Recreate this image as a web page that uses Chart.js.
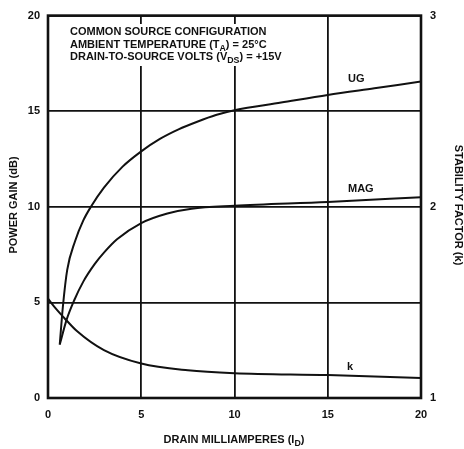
<!DOCTYPE html>
<html>
<head>
<meta charset="utf-8">
<script src="https://cdn.jsdelivr.net/npm/chart.js@4.4.1/dist/chart.umd.min.js"></script>
<style>
  html, body { margin: 0; padding: 0; background: #fff; }
  #wrap { width: 464px; height: 449px; }
</style>
</head>
<body>
<div id="wrap"><canvas id="myChart" width="464" height="449"></canvas></div>
<script>
// drain current (mA) and readings, taken off the plot
const ugX = [0.63, 0.8, 1.03, 1.45, 1.9, 2.3, 3, 4, 5, 6, 7, 8, 9, 10, 12.5, 15, 17.5, 20];
const ugDb = [2.8, 4.8, 6.7, 8.2, 9.3, 10.0, 11.0, 12.1, 12.9, 13.55, 14.05, 14.45, 14.8, 15.05, 15.45, 15.85, 16.2, 16.55];

const magX = [0.63, 1.0, 1.4, 1.9, 2.5, 3.0, 3.7, 5, 6.4, 7.7, 10, 15, 20];
const magDb = [2.8, 4.1, 5.1, 6.1, 7.0, 7.6, 8.3, 9.15, 9.65, 9.9, 10.05, 10.25, 10.5];

const kX = [0, 0.4, 0.86, 1.55, 3.0, 5, 7.5, 10, 15, 20];
const kVal = [1.52, 1.47, 1.42, 1.35, 1.25, 1.18, 1.145, 1.13, 1.12, 1.105];

const xTicks = [0, 5, 10, 15, 20];
const gainTicks = [0, 5, 10, 15, 20];
const kTicks = [1, 2, 3];

const titleLines = [
  ["COMMON SOURCE CONFIGURATION"],
  ["AMBIENT TEMPERATURE (T", "A", ") = 25°C"],
  ["DRAIN-TO-SOURCE VOLTS (V", "DS", ") = +15V"]
];

const ink = "#111";
const font = "'Liberation Sans', Arial, sans-serif";

function pts(xs, ys) {
  return xs.map((x, i) => ({ x: x, y: ys[i] }));
}

// draws text where every second piece is a subscript
function subText(ctx, parts, x, y, size) {
  let cx = x;
  parts.forEach(function (p, i) {
    if (i % 2 === 1) {
      ctx.font = "bold " + (size * 0.8) + "px " + font;
      ctx.fillText(p, cx, y + size * 0.3);
    } else {
      ctx.font = "bold " + size + "px " + font;
      ctx.fillText(p, cx, y);
    }
    cx += ctx.measureText(p).width;
  });
  return cx - x;
}

function subWidth(ctx, parts, size) {
  let w = 0;
  parts.forEach(function (p, i) {
    ctx.font = "bold " + (i % 2 === 1 ? size * 0.8 : size) + "px " + font;
    w += ctx.measureText(p).width;
  });
  return w;
}

const decor = {
  id: "decor",
  beforeDatasetsDraw(chart) {
    const ctx = chart.ctx;
    ctx.save();
    // white patch behind the condition text
    ctx.fillStyle = "#fff";
    ctx.fillRect(66, 24, 228, 42);
    ctx.fillStyle = ink;
    ctx.textBaseline = "alphabetic";
    ctx.textAlign = "left";
    subText(ctx, titleLines[0], 70, 35, 11);
    subText(ctx, titleLines[1], 70, 48, 11);
    subText(ctx, titleLines[2], 70, 60, 11);
    ctx.restore();
  },
  afterDraw(chart) {
    const ctx = chart.ctx;
    const a = chart.chartArea;
    ctx.save();
    ctx.strokeStyle = ink;
    ctx.lineWidth = 2.6;
    ctx.strokeRect(a.left, a.top, a.right - a.left, a.bottom - a.top);

    ctx.fillStyle = ink;
    ctx.textBaseline = "middle";
    ctx.textAlign = "left";
    ctx.font = "bold 11px " + font;
    ctx.fillText("UG", 348, 79);
    ctx.fillText("MAG", 348, 189);
    ctx.fillText("k", 347, 367);

    // x axis title
    ctx.textBaseline = "alphabetic";
    const xt = ["DRAIN MILLIAMPERES (I", "D", ")"];
    const w = subWidth(ctx, xt, 11);
    subText(ctx, xt, 234 - w / 2, 443, 11);

    // left title
    ctx.save();
    ctx.translate(17, 205);
    ctx.rotate(-Math.PI / 2);
    ctx.textAlign = "center";
    ctx.font = "bold 11px " + font;
    ctx.fillText("POWER GAIN (dB)", 0, 0);
    ctx.restore();

    // right title
    ctx.save();
    ctx.translate(455, 205);
    ctx.rotate(Math.PI / 2);
    ctx.textAlign = "center";
    ctx.font = "bold 11px " + font;
    ctx.fillText("STABILITY FACTOR (k)", 0, 0);
    ctx.restore();
    ctx.restore();
  }
};

const lineStyle = {
  borderColor: ink,
  borderWidth: 2,
  pointRadius: 0,
  fill: false,
  cubicInterpolationMode: "monotone"
};

new Chart(document.getElementById("myChart"), {
  type: "line",
  data: {
    datasets: [
      Object.assign({ label: "UG", data: pts(ugX, ugDb), yAxisID: "y" }, lineStyle),
      Object.assign({ label: "MAG", data: pts(magX, magDb), yAxisID: "y" }, lineStyle),
      Object.assign({ label: "k", data: pts(kX, kVal), yAxisID: "y2" }, lineStyle)
    ]
  },
  options: {
    responsive: false,
    animation: false,
    layout: { padding: { top: 15, left: 0, right: 0, bottom: 0 } },
    plugins: { legend: { display: false }, tooltip: { enabled: false } },
    scales: {
      x: {
        type: "linear",
        min: 0,
        max: 20,
        afterFit(s) { s.height = 51; },
        afterBuildTicks(s) { s.ticks = xTicks.map((v) => ({ value: v })); },
        ticks: { color: ink, font: { family: font, size: 11, weight: "bold" }, padding: 10, maxRotation: 0 },
        grid: { color: ink, lineWidth: 1.8, drawTicks: false },
        border: { display: false }
      },
      y: {
        position: "left",
        min: 0,
        max: 20,
        afterFit(s) { s.width = 48; },
        afterBuildTicks(s) { s.ticks = gainTicks.map((v) => ({ value: v })); },
        ticks: { color: ink, font: { family: font, size: 11, weight: "bold" }, padding: 8 },
        grid: { color: ink, lineWidth: 1.8, drawTicks: false },
        border: { display: false }
      },
      y2: {
        position: "right",
        min: 1,
        max: 3,
        afterFit(s) { s.width = 43; },
        afterBuildTicks(s) { s.ticks = kTicks.map((v) => ({ value: v })); },
        ticks: { color: ink, font: { family: font, size: 11, weight: "bold" }, padding: 9 },
        grid: { display: false, drawTicks: false },
        border: { display: false }
      }
    }
  },
  plugins: [decor]
});
</script>
</body>
</html>
